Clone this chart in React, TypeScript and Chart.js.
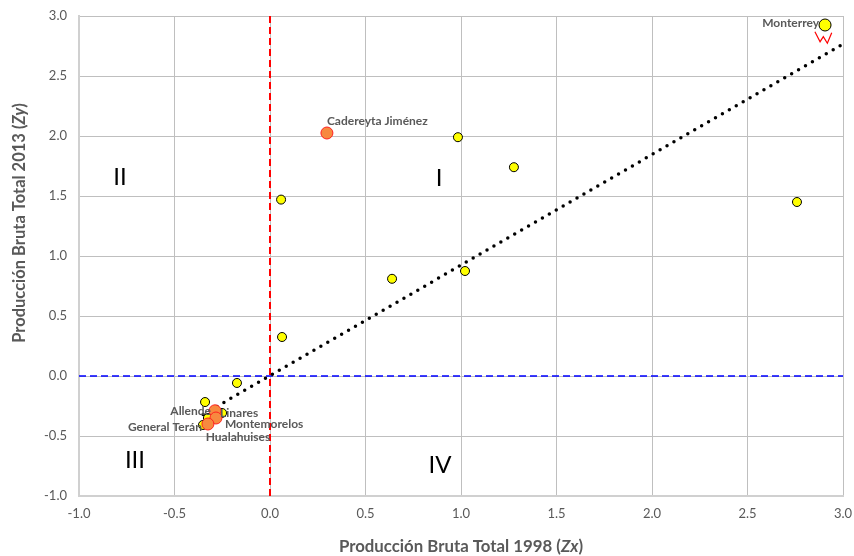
import { useEffect, useRef } from "react";
import { Chart, registerables } from "chart.js";

Chart.register(...registerables);

// ---- Data ----
const X_MIN = -1;
const X_MAX = 3;
const Y_MIN = -1;
const Y_MAX = 3;
const STEP = 0.5;

// small yellow points (municipios)
const smallX = [0.984, 1.277, 0.058, 2.759, 0.639, 1.021, 0.063, -0.173, -0.34, -0.351, -0.251, -0.325];
const smallY = [1.99, 1.74, 1.47, 1.45, 0.81, 0.875, 0.325, -0.058, -0.217, -0.408, -0.308, -0.35];
const smallNames = ["", "", "", "", "", "", "", "", "", "Hualahuises", "Linares", ""];

// highlighted orange points
const orangeX = [0.298, -0.288, -0.283, -0.325];
const orangeY = [2.025, -0.29, -0.35, -0.4];
const orangeNames = ["Cadereyta Jiménez", "Allende", "Montemorelos", "General Terán"];

// Monterrey (larger yellow point)
const bigX = [2.906];
const bigY = [2.925];
const bigNames = ["Monterrey"];

// trend line (dotted)
const trendX = [-0.35, 3.0];
const trendY = [-0.32, 2.767];

// red hand-drawn scribble next to Monterrey
const scribbleX = [2.853, 2.88, 2.897, 2.918, 2.941];
const scribbleY = [2.869, 2.786, 2.828, 2.773, 2.861];

// quadrant labels
const quadNames = ["I", "II", "III", "IV"];
const quadX = [0.885, -0.785, -0.707, 0.89];
const quadY = [1.65, 1.66, -0.7, -0.74];

const xTitleParts = [
  { t: "Producción Bruta Total 1998 (", i: false },
  { t: "Zx", i: true },
  { t: ")", i: false },
];
const yTitleParts = [
  { t: "Producción Bruta Total 2013 (", i: false },
  { t: "Zy", i: true },
  { t: ")", i: false },
];

const FONT = "Lato, 'Open Sans', sans-serif";
const GRAY = "#595959";

const toPts = (xs: number[], ys: number[]) => xs.map((x, k) => ({ x, y: ys[k] }));

// label placement (pixels relative to point)
const labelPlace: Record<string, { align: CanvasTextAlign; dx: number; dy: number }> = {
  Monterrey: { align: "right", dx: -6, dy: -2 },
  "Cadereyta Jiménez": { align: "left", dx: 0, dy: -12 },
  Allende: { align: "right", dx: -4, dy: 0 },
  Linares: { align: "left", dx: -2, dy: 0 },
  Montemorelos: { align: "left", dx: 9, dy: 6 },
  "General Terán": { align: "right", dx: -6, dy: 3 },
  Hualahuises: { align: "center", dx: 35, dy: 12 },
};

function drawParts(ctx: CanvasRenderingContext2D, parts: { t: string; i: boolean }[], size: number) {
  const fonts = parts.map((p) => `${p.i ? "italic " : ""}bold ${size}px ${FONT}`);
  let total = 0;
  const widths = parts.map((p, k) => {
    ctx.font = fonts[k];
    const w = ctx.measureText(p.t).width;
    total += w;
    return w;
  });
  let x = -total / 2;
  parts.forEach((p, k) => {
    ctx.font = fonts[k];
    ctx.fillText(p.t, x, 0);
    x += widths[k];
  });
}

const overlayPlugin = {
  id: "overlay",
  afterDatasetsDraw(chart: any) {
    const ctx = chart.ctx as CanvasRenderingContext2D;
    const xs = chart.scales.x;
    const ys = chart.scales.y;
    ctx.save();
    // point labels
    ctx.fillStyle = GRAY;
    ctx.font = `bold 12px ${FONT}`;
    ctx.textBaseline = "middle";
    const series: [number[], number[], string[]][] = [
      [smallX, smallY, smallNames],
      [orangeX, orangeY, orangeNames],
      [bigX, bigY, bigNames],
    ];
    series.forEach(([sx, sy, names]) => {
      names.forEach((n, k) => {
        if (!n) return;
        const p = labelPlace[n] || { align: "left", dx: 6, dy: 0 };
        ctx.textAlign = p.align;
        ctx.fillText(n, xs.getPixelForValue(sx[k]) + p.dx, ys.getPixelForValue(sy[k]) + p.dy);
      });
    });
    // quadrant labels
    ctx.fillStyle = "#000000";
    ctx.font = `24px ${FONT}`;
    ctx.textAlign = "center";
    quadNames.forEach((n, k) => {
      ctx.fillText(n, xs.getPixelForValue(quadX[k]), ys.getPixelForValue(quadY[k]));
    });
    // axis titles
    ctx.fillStyle = GRAY;
    ctx.textAlign = "left";
    ctx.save();
    ctx.translate((chart.chartArea.left + chart.chartArea.right) / 2, chart.height - 9);
    drawParts(ctx, xTitleParts, 16.8);
    ctx.restore();
    ctx.save();
    ctx.translate(20, 223);
    ctx.rotate(-Math.PI / 2);
    drawParts(ctx, yTitleParts, 16.5);
    ctx.restore();
    ctx.restore();
  },
};

export default function App() {
  const ref = useRef<HTMLCanvasElement | null>(null);
  useEffect(() => {
    document.body.style.margin = "0";
    const canvas = ref.current!;
    const chart = new Chart(canvas, {
      type: "scatter",
      data: {
        datasets: [
          {
            label: "Monterrey",
            data: toPts(bigX, bigY),
            backgroundColor: "#FFFF00",
            borderColor: "#000000",
            borderWidth: 1,
            pointRadius: 6,
            order: 0,
          },
          {
            label: "Destacados",
            data: toPts(orangeX, orangeY),
            backgroundColor: "#F7893F",
            borderColor: "#FF2020",
            borderWidth: 1,
            pointRadius: 6,
            order: 1,
          },
          {
            label: "Municipios",
            data: toPts(smallX, smallY),
            backgroundColor: "#FFFF00",
            borderColor: "#000000",
            borderWidth: 1,
            pointRadius: 4.5,
            order: 2,
          },
          {
            type: "line",
            label: "Tendencia",
            data: toPts(trendX, trendY),
            borderColor: "#000000",
            borderWidth: 3.5,
            borderDash: [0, 8],
            borderCapStyle: "round",
            pointRadius: 0,
            showLine: true,
            fill: false,
            order: 3,
          } as any,
          {
            type: "line",
            label: "scribble",
            data: toPts(scribbleX, scribbleY),
            borderColor: "#FF0000",
            borderWidth: 1.2,
            pointRadius: 0,
            showLine: true,
            fill: false,
            order: 3,
          } as any,
          {
            type: "line",
            label: "x=0",
            data: [
              { x: 0, y: Y_MIN },
              { x: 0, y: Y_MAX },
            ],
            borderColor: "#FF0000",
            borderWidth: 2,
            borderDash: [7, 4],
            pointRadius: 0,
            showLine: true,
            fill: false,
            order: 4,
          } as any,
          {
            type: "line",
            label: "y=0",
            data: [
              { x: X_MIN, y: 0 },
              { x: X_MAX, y: 0 },
            ],
            borderColor: "#0000FF",
            borderWidth: 1.6,
            borderDash: [7, 4],
            pointRadius: 0,
            showLine: true,
            fill: false,
            order: 4,
          } as any,
        ],
      },
      options: {
        responsive: false,
        animation: false,
        layout: { padding: { top: 16, right: 11, left: 0, bottom: 0 } },
        plugins: { legend: { display: false }, tooltip: { enabled: false } },
        scales: {
          x: {
            type: "linear",
            min: X_MIN,
            max: X_MAX,
            ticks: {
              stepSize: STEP,
              color: GRAY,
              font: { family: FONT, size: 13 },
              padding: 10,
              callback: (v: any) => Number(v).toFixed(1),
            },
            grid: { color: "#BFBFBF", drawTicks: false, lineWidth: 1 },
            border: { color: "#D0D0D0", width: 2 },
            afterFit: (s: any) => {
              s.height = 60;
              s.paddingLeft = 0;
              s.paddingRight = 0;
            },
          },
          y: {
            type: "linear",
            min: Y_MIN,
            max: Y_MAX,
            ticks: {
              stepSize: STEP,
              color: GRAY,
              font: { family: FONT, size: 13 },
              padding: 12,
              callback: (v: any) => Number(v).toFixed(1),
            },
            grid: { color: "#BFBFBF", drawTicks: false, lineWidth: 1 },
            border: { color: "#D0D0D0", width: 2 },
            afterFit: (s: any) => {
              s.width = 79;
              s.paddingTop = 0;
              s.paddingBottom = 0;
            },
          },
        },
      } as any,
      plugins: [overlayPlugin],
    });
    return () => chart.destroy();
  }, []);
  return (
    <div style={{ position: "absolute", left: 0, top: 0, width: 854, height: 556 }}>
      <canvas ref={ref} width={854} height={556} style={{ width: 854, height: 556 }} />
    </div>
  );
}
